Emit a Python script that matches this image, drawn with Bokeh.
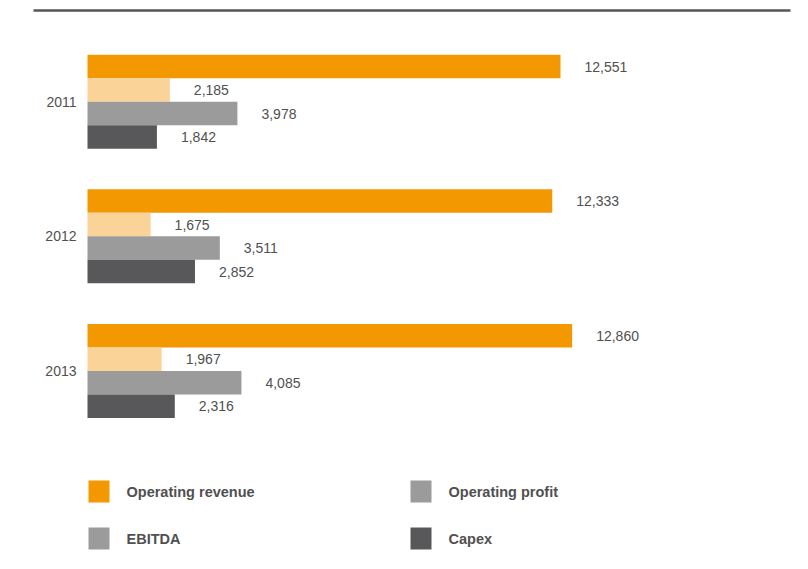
from bokeh.plotting import figure
from bokeh.models import Range1d, ColumnDataSource
from bokeh.core.properties import value
from bokeh.embed import file_html
from bokeh.resources import INLINE

years = ["2011", "2012", "2013"]
series = ["Operating revenue", "Operating profit", "EBITDA", "Capex"]
revenue = [12551, 12333, 12860]
op_profit = [2185, 1675, 1967]
ebitda = [3978, 3511, 4085]
capex = [1842, 2852, 2316]
bar_colors = ["#F39800", "#FAD398", "#9B9B9B", "#58585A"]
legend_labels = ["Operating revenue", "Operating profit", "EBITDA", "Capex"]
legend_colors = ["#F39800", "#9B9B9B", "#9B9B9B", "#58585A"]

W, H = 808, 569
X0 = 87.0                 # pixel where 0 sits
K = 473.0 / 12551.0       # pixels per unit
FONT = "Liberation Sans"
TXT = "#505050"

p = figure(width=W, height=H, output_backend="svg", toolbar_location=None,
           min_border=0, outline_line_color=None,
           x_range=Range1d(-X0 / K, (W - X0) / K),
           y_range=Range1d(H, 0))
p.axis.visible = False
p.grid.visible = False
p.background_fill_color = "white"
p.border_fill_color = "white"

# layout (pixel-like y units, top = 0)
group_center0 = 101.25
group_step = 134.6
bar_h = 23.5

all_vals = [revenue, op_profit, ebitda, capex]
ys, rights, colors, labels, lx = [], [], [], [], []
for gi, yr in enumerate(years):
    c = group_center0 + gi * group_step
    for si, vals in enumerate(all_vals):
        y = c + (si - 1.5) * bar_h
        ys.append(y)
        rights.append(vals[gi])
        colors.append(bar_colors[si])
        labels.append(f"{vals[gi]:,}")
        lx.append(vals[gi] + 24 / K)

src = ColumnDataSource(dict(y=ys, right=rights, color=colors, label=labels, lx=lx))
p.hbar(y="y", left=0, right="right", height=bar_h, color="color", line_color=None, source=src)
p.text(x="lx", y="y", text="label", source=src, text_font=value(FONT),
       text_font_size="14px", text_color=TXT, text_baseline="middle", text_align="left")

# year labels
yl = ColumnDataSource(dict(x=[-11 / K] * 3,
                           y=[group_center0 + i * group_step for i in range(3)],
                           t=years))
p.text(x="x", y="y", text="t", source=yl, text_font=value(FONT), text_font_size="14px",
       text_color=TXT, text_baseline="middle", text_align="right")

# top rule
p.segment(x0=[(33 - X0) / K], x1=[(790 - X0) / K], y0=[10], y1=[10],
          line_color="#555555", line_width=2.5)

# legend
lg_x = [(98.5 - X0) / K, (420.5 - X0) / K, (98.5 - X0) / K, (420.5 - X0) / K]
lg_tx = [(126 - X0) / K, (448 - X0) / K, (126 - X0) / K, (448 - X0) / K]
lg_y = [491, 491, 538, 538]
lsrc = ColumnDataSource(dict(x=lg_x, tx=lg_tx, y=lg_y, c=legend_colors, t=legend_labels))
p.rect(x="x", y="y", width=21 / K, height=22, color="c", line_color=None, source=lsrc)
p.text(x="tx", y="y", text="t", source=lsrc, text_font=value(FONT), text_font_size="14.5px",
       text_font_style="bold", text_color=TXT, text_baseline="middle", text_align="left")

open("out.html", "w").write(file_html(p, INLINE))
